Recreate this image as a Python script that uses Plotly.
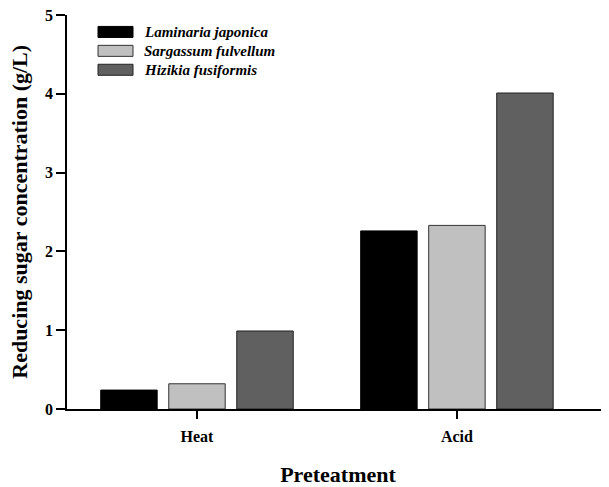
import plotly.graph_objects as go

categories = ["Heat", "Acid"]
series_names = ["Laminaria japonica", "Sargassum fulvellum", "Hizikia fusiformis"]
laminaria = [0.24, 2.26]
sargassum = [0.32, 2.33]
hizikia = [0.99, 4.01]
y_ticks = [0, 1, 2, 3, 4, 5]
x_title = "Preteatment"
y_title = "Reducing sugar concentration (g/L)"

series_values = [laminaria, sargassum, hizikia]
fills = ["#000000", "#c0c0c0", "#606060"]
outlines = ["#000000", "#333333", "#222222"]

FONT = "Liberation Serif"

fig = go.Figure()
for name, vals, fc, lc in zip(series_names, series_values, fills, outlines):
    fig.add_trace(go.Bar(
        x=categories, y=vals, name=name,
        marker=dict(color=fc, line=dict(color=lc, width=1)),
        showlegend=False,
    ))

# custom legend (wide swatches like the reference)
row_y = [0.957, 0.909, 0.861]
for name, fc, lc, yc in zip(series_names, fills, outlines, row_y):
    fig.add_shape(type="rect", xref="paper", yref="paper",
                  x0=0.0572, x1=0.1218, y0=yc - 0.014, y1=yc + 0.014,
                  fillcolor=fc, line=dict(color=lc, width=1))
    fig.add_annotation(xref="paper", yref="paper", x=0.1384, y=yc,
                       xanchor="left", yanchor="middle", showarrow=False,
                       text="<b><i>%s</i></b>" % name,
                       font=dict(family=FONT, size=15, color="black"))

# y-axis title as a rotated annotation so it can sit close to the page edge
fig.add_annotation(xref="paper", yref="paper", x=-0.089, y=0.5,
                   xanchor="center", yanchor="middle", showarrow=False,
                   textangle=-90, text="<b>%s</b>" % y_title,
                   font=dict(family=FONT, size=22, color="black"))

# page body has an 8px margin, so the figure is shrunk by 8px and margins shifted
fig.update_layout(
    width=601, height=479,
    margin=dict(l=59, r=0, t=7, b=78),
    paper_bgcolor="white", plot_bgcolor="white",
    barmode="group", bargap=0.215, bargroupgap=0.17,
    font=dict(family=FONT, color="black"),
    xaxis=dict(
        range=[-0.5, 1.585],
        showline=True, linecolor="black", linewidth=1.5,
        ticks="outside", ticklen=8, tickwidth=1.5, tickcolor="black",
        ticklabelstandoff=4,
        tickfont=dict(family=FONT, size=16, weight="bold"),
        title=dict(text=x_title, font=dict(family=FONT, size=22, weight="bold"), standoff=25),
        showgrid=False, zeroline=False,
    ),
    yaxis=dict(
        range=[0, 5], tickvals=y_ticks,
        showline=True, linecolor="black", linewidth=1.5,
        ticks="outside", ticklen=9, tickwidth=1.5, tickcolor="black",
        ticklabeloverflow="allow",
        tickfont=dict(family=FONT, size=16, weight="bold"),
        showgrid=False, zeroline=False,
    ),
)

fig.write_html("out.html")
